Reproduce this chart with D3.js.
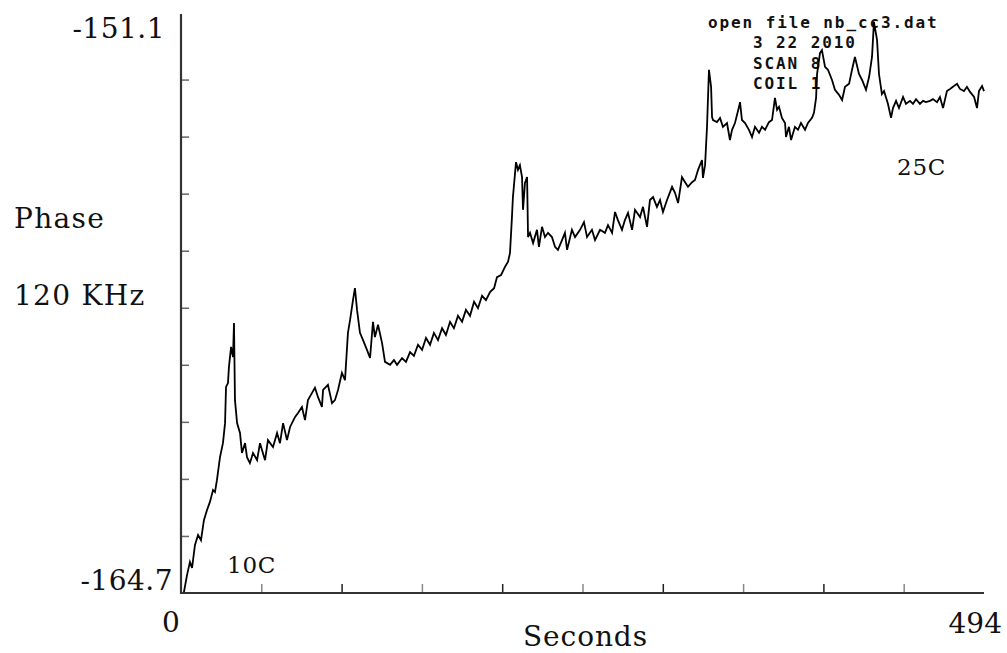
<!DOCTYPE html>
<html>
<head>
<meta charset="utf-8">
<script src="https://cdn.jsdelivr.net/npm/d3@7/dist/d3.min.js"></script>
<style>
  html, body { margin: 0; padding: 0; background: #fff; }
  svg { display: block; }
  .serif { font-family: "DejaVu Serif", serif; fill: #111; }
  .mono { font-family: "DejaVu Sans Mono", monospace; font-weight: bold; fill: #111; }
</style>
</head>
<body>
<svg id="chart" width="1007" height="653"></svg>
<script>
// ---- data ----
const seconds = [1.8,3.7,5.5,6.8,8.6,10.5,12.3,14.1,16.0,17.8,19.7,20.9,22.1,24.0,25.8,27.1,27.7,28.9,29.5,30.8,32.0,32.6,33.2,34.5,36.3,37.5,39.4,40.6,42.4,44.3,46.8,48.6,51.7,53.5,56.6,59.1,60.9,62.8,65.2,67.1,70.1,72.0,74.4,76.3,78.1,80.6,82.4,84.3,86.7,87.4,90.4,92.9,94.7,96.6,99.0,100.9,102.7,104.0,105.8,107.0,108.3,110.1,112.0,114.4,116.3,118.1,119.3,121.2,123.7,125.5,128.6,131.0,132.9,136.0,138.4,140.9,143.3,145.8,148.3,150.7,153.2,155.6,158.1,160.6,163.0,165.5,167.9,170.4,172.9,175.3,177.8,180.3,182.7,185.2,187.6,190.1,192.6,194.4,196.9,199.3,201.2,202.4,203.6,204.2,206.1,207.3,208.5,209.8,210.4,211.6,212.9,213.5,214.7,216.6,219.0,220.2,222.1,223.9,225.8,228.2,230.1,231.9,234.4,236.2,237.5,240.5,242.4,245.5,247.9,249.8,252.8,254.7,257.8,260.8,262.7,265.2,267.0,268.8,271.3,273.1,275.0,277.5,279.3,282.4,284.2,286.7,288.5,290.4,292.8,294.7,296.5,299.0,302.1,303.9,305.8,308.2,310.1,311.9,314.4,316.2,318.1,320.5,321.1,322.4,323.6,324.8,326.1,326.7,327.3,329.7,331.6,333.4,335.9,337.7,339.0,340.8,343.3,343.9,345.1,347.0,349.4,351.3,353.1,355.6,357.4,359.3,361.7,363.6,365.4,366.7,367.9,369.7,371.6,372.2,374.0,375.3,377.7,379.6,381.4,383.9,385.7,388.2,389.4,390.7,391.3,393.1,394.3,396.2,398.0,400.5,402.3,404.8,406.7,408.5,411.0,412.8,414.6,417.1,419.0,421.4,423.3,425.1,426.3,428.2,429.4,431.2,432.5,434.9,436.8,438.0,439.9,441.7,444.2,446.0,448.5,450.3,452.2,454.6,456.5,458.3,460.8,462.6,465.1,466.9,468.8,471.2,473.1,474.9,477.4,479.2,481.7,483.5,485.4,487.9,489.7,490.9,492.8,494.0];
const phase = [-164.68,-164.28,-163.97,-164.11,-163.57,-163.34,-163.46,-162.99,-162.75,-162.56,-162.28,-162.33,-162.05,-161.51,-161.18,-160.71,-159.86,-159.77,-159.39,-158.92,-159.16,-158.36,-160.17,-160.71,-160.94,-161.41,-161.18,-161.51,-161.65,-161.41,-161.58,-161.18,-161.58,-161.11,-161.27,-160.94,-161.18,-160.71,-161.11,-160.80,-160.57,-160.47,-160.33,-160.64,-160.17,-160.00,-159.88,-160.10,-160.33,-159.93,-159.81,-160.24,-160.17,-159.93,-159.53,-159.70,-158.59,-158.29,-157.82,-157.54,-158.05,-158.59,-158.76,-158.99,-159.18,-158.33,-158.69,-158.40,-158.83,-159.27,-159.34,-159.23,-159.34,-159.18,-159.27,-159.04,-159.13,-158.87,-158.99,-158.71,-158.87,-158.59,-158.76,-158.48,-158.64,-158.33,-158.48,-158.19,-158.33,-158.05,-158.19,-157.86,-158.01,-157.72,-157.82,-157.63,-157.54,-157.28,-157.23,-157.04,-156.92,-156.71,-155.87,-155.40,-154.58,-154.76,-154.65,-154.93,-155.70,-155.07,-154.93,-156.34,-156.24,-156.48,-156.17,-156.57,-156.10,-156.34,-156.24,-156.34,-156.57,-156.64,-156.41,-156.24,-156.64,-156.17,-156.34,-156.17,-155.99,-156.34,-156.17,-156.41,-156.17,-156.24,-156.06,-156.24,-155.75,-155.94,-156.17,-155.94,-155.77,-156.17,-155.70,-155.87,-155.63,-156.10,-155.47,-155.40,-155.63,-155.47,-155.75,-155.47,-155.16,-155.30,-155.54,-154.93,-155.05,-155.16,-155.05,-155.00,-154.76,-154.53,-154.95,-154.65,-153.75,-152.41,-152.81,-153.52,-153.59,-153.64,-153.54,-153.75,-153.66,-154.06,-153.82,-153.66,-153.28,-153.17,-153.59,-153.66,-153.82,-153.99,-153.75,-153.89,-153.75,-153.82,-153.64,-153.59,-153.07,-153.35,-153.28,-153.54,-153.66,-153.99,-153.75,-154.06,-153.75,-153.82,-153.66,-153.82,-153.66,-153.54,-153.42,-153.07,-152.51,-152.02,-151.95,-152.34,-152.41,-152.65,-152.88,-153.00,-153.12,-152.81,-152.74,-152.41,-152.11,-152.51,-152.65,-152.88,-152.58,-152.11,-151.29,-151.71,-152.51,-152.98,-152.91,-153.21,-153.54,-153.31,-153.14,-153.31,-153.05,-153.21,-153.14,-153.21,-153.10,-153.21,-153.14,-153.17,-153.14,-153.10,-153.17,-153.05,-153.31,-152.91,-152.86,-152.81,-152.74,-152.86,-152.91,-152.81,-152.93,-153.05,-153.31,-152.91,-152.79,-152.91];

const xDomain = [0, 494];
const yDomain = [-164.7, -151.1];
const xTickValues = [49.4, 98.8, 148.2, 197.6, 247.0, 296.4, 345.8, 395.2, 444.6];
const yTickValues = [-163.36, -162.02, -160.68, -159.34, -158.00, -156.66, -155.32, -153.98, -152.64];
const xEndLabels = ["0", "494"];
const yEndLabels = ["-164.7", "-151.1"];
const xTitle = "Seconds";
const yTitleLines = ["Phase", "120 KHz"];
const tempLabels = ["10C", "25C"];
const infoLines = ["open file nb_cc3.dat", "3 22 2010", "SCAN 8", "COIL 1"];

// ---- drawing ----
const svg = d3.select("#chart");
const x = d3.scaleLinear().domain(xDomain).range([181, 984]);
const y = d3.scaleLinear().domain(yDomain).range([593, 14]);

// info text (upper right)
svg.append("g").selectAll("text").data(infoLines).join("text")
  .attr("class", "mono")
  .attr("x", (d, i) => i === 0 ? 708 : 753)
  .attr("y", (d, i) => [28, 48, 69, 89][i])
  .attr("font-size", 16)
  .attr("letter-spacing", 1.9)
  .text(d => d);

// y axis ticks (pointing inward)
const yAxis = d3.axisRight(y).tickValues(yTickValues).tickSize(8).tickFormat("");
const gy = svg.append("g").attr("transform", `translate(${x(0)},0)`).call(yAxis);
gy.select(".domain").remove();
gy.selectAll(".tick line").attr("stroke", "#666").attr("stroke-width", 1.5);

// x axis ticks (pointing up)
const xAxis = d3.axisTop(x).tickValues(xTickValues).tickSize(9).tickFormat("");
const gx = svg.append("g").attr("transform", `translate(0,${y(yDomain[0])})`).call(xAxis);
gx.select(".domain").remove();
gx.selectAll(".tick line")
  .attr("stroke", (d, i) => i % 2 === 1 ? "#222" : "#888")
  .attr("stroke-width", 1.5);

// axis lines
svg.append("line").attr("x1", x(0)).attr("x2", x(0)).attr("y1", y(yDomain[1])).attr("y2", y(yDomain[0]) + 1)
  .attr("stroke", "#333").attr("stroke-width", 2.2);
svg.append("line").attr("x1", x(0) - 1).attr("x2", x(xDomain[1])).attr("y1", y(yDomain[0])).attr("y2", y(yDomain[0]))
  .attr("stroke", "#333").attr("stroke-width", 2.2);

// data line
const pts = seconds.map((s, i) => [s, phase[i]]);
svg.append("path")
  .datum(pts)
  .attr("fill", "none")
  .attr("stroke", "#000")
  .attr("stroke-width", 1.8)
  .attr("stroke-linejoin", "miter")
  .attr("d", d3.line().x(d => x(d[0])).y(d => y(d[1])));

// end labels
svg.append("text").attr("class", "serif").attr("font-size", 28).attr("letter-spacing", 0.5)
  .attr("x", x(0) - 16).attr("y", y(yDomain[1]) + 24).attr("text-anchor", "end").text(yEndLabels[1]);
svg.append("text").attr("class", "serif").attr("font-size", 28).attr("letter-spacing", 0.5)
  .attr("x", x(0) - 8).attr("y", y(yDomain[0]) - 3).attr("text-anchor", "end").text(yEndLabels[0]);
svg.append("text").attr("class", "serif").attr("font-size", 28)
  .attr("x", x(0) - 10).attr("y", 632).attr("text-anchor", "middle").text(xEndLabels[0]);
svg.append("text").attr("class", "serif").attr("font-size", 28)
  .attr("x", x(xDomain[1]) + 18).attr("y", 633).attr("text-anchor", "end").text(xEndLabels[1]);

// titles
svg.append("text").attr("class", "serif").attr("font-size", 28).attr("letter-spacing", 0.9)
  .attr("x", 523).attr("y", 646).text(xTitle);
svg.append("g").selectAll("text").data(yTitleLines).join("text")
  .attr("class", "serif").attr("font-size", 28).attr("letter-spacing", 1.3)
  .attr("x", 14).attr("y", (d, i) => [228, 305][i]).text(d => d);

// temperature labels
svg.append("text").attr("class", "serif").attr("font-size", 23).attr("letter-spacing", 0.8)
  .attr("x", 227).attr("y", 573).text(tempLabels[0]);
svg.append("text").attr("class", "serif").attr("font-size", 23).attr("letter-spacing", 0.8)
  .attr("x", 897).attr("y", 175).text(tempLabels[1]);
</script>
</body>
</html>
